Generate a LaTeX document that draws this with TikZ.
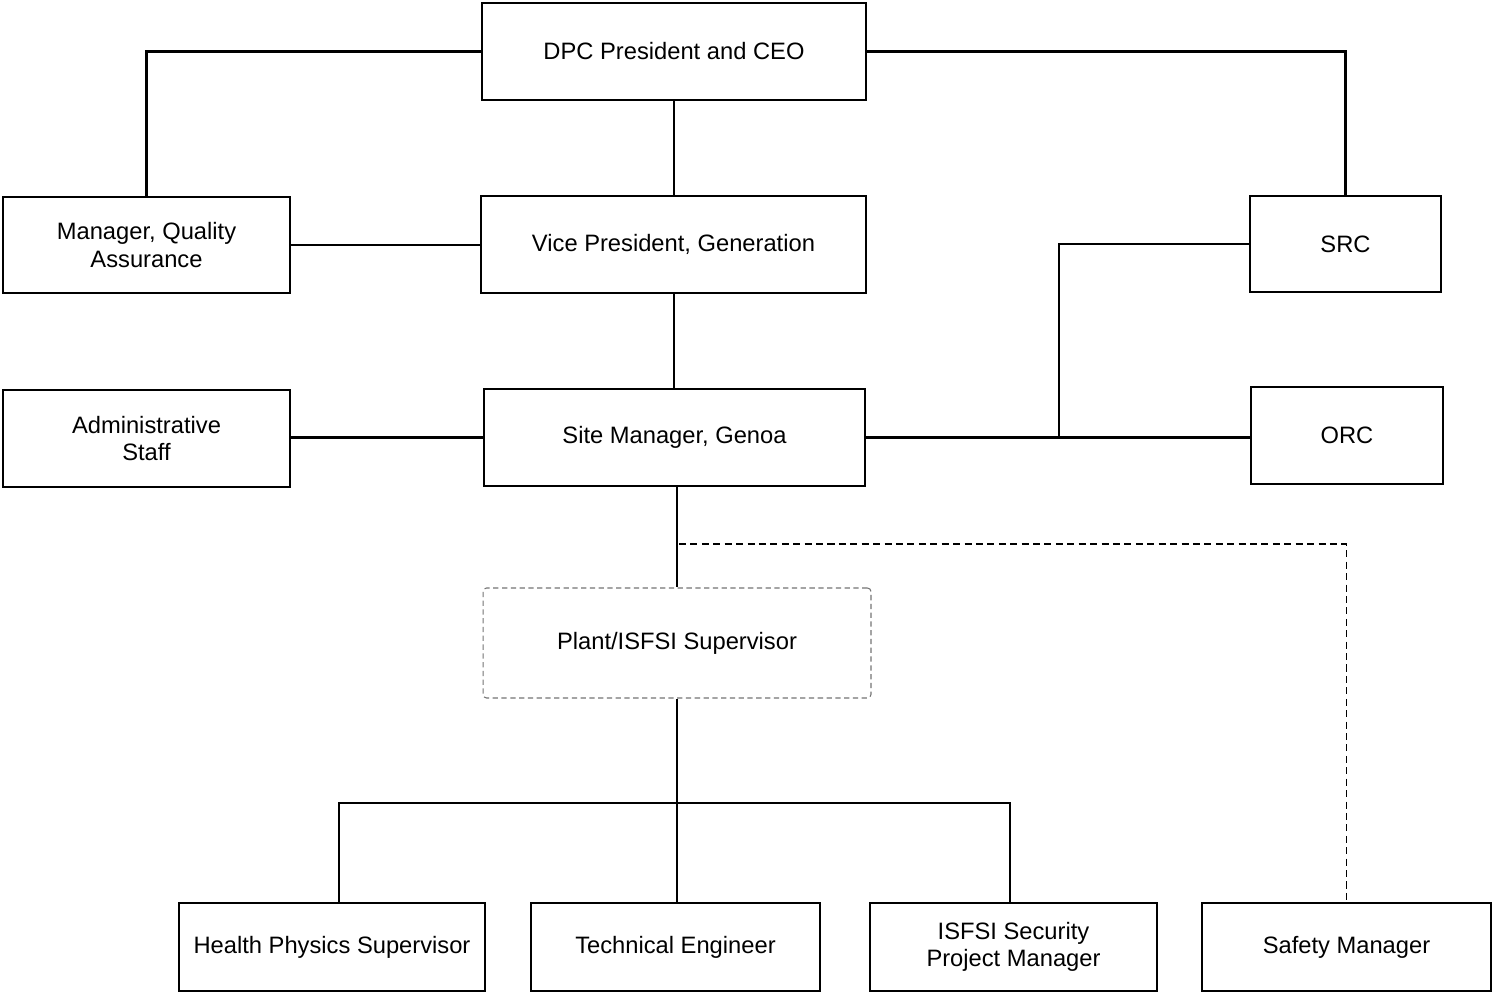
\documentclass[tikz,border=0pt]{standalone}
\usepackage{fontspec}
\setmainfont{Liberation Sans}
\usepackage{tikz}

\begin{document}
\begin{tikzpicture}[x = .02cm, y = -.02cm, line width = 1.3pt,
        box/.style = {draw, inner sep = 0pt, align = center, font = \fontsize{13.5}{15.5}\selectfont}]
        \useasboundingbox (0,0) rectangle (1493,993);

        \node[box, minimum width = 7.68cm, minimum height = 1.94cm] (ceo) at (674,51.5) {DPC President and CEO};
        \node[box, minimum width = 5.74cm, minimum height = 1.92cm] (qa) at (146.5,245) {Manager, Quality\\Assurance};
        \node[box, minimum width = 7.70cm, minimum height = 1.94cm] (vp) at (673.5,244.5) {Vice President, Generation};
        \node[box, minimum width = 3.82cm, minimum height = 1.92cm] (src) at (1345.5,244) {SRC};
        \node[box, minimum width = 5.74cm, minimum height = 1.94cm] (admin) at (146.5,438.5) {Administrative\\Staff};
        \node[box, minimum width = 7.62cm, minimum height = 1.94cm] (site) at (674.5,437.5) {Site Manager, Genoa};
        \node[box, minimum width = 3.84cm, minimum height = 1.94cm] (orc) at (1347,435.5) {ORC};
        \node[box, draw = black!55, densely dashed, rounded corners = 2pt, line width = .6pt,
              minimum width = 7.76cm, minimum height = 2.2cm] (plant) at (677,643) {Plant/ISFSI Supervisor};
        \node[box, minimum width = 6.12cm, minimum height = 1.76cm] (hp) at (332,947) {Health Physics Supervisor};
        \node[box, minimum width = 5.78cm, minimum height = 1.76cm] (tech) at (675.5,947) {Technical Engineer};
        \node[box, minimum width = 5.74cm, minimum height = 1.76cm] (sec) at (1013.5,947) {ISFSI Security\\Project Manager};
        \node[box, minimum width = 5.78cm, minimum height = 1.76cm] (safety) at (1346.5,947) {Safety Manager};

        \draw (ceo.west) -| (qa.north);
        \draw (ceo.east) -| (src.north);
        \draw (ceo.south) -- (ceo.south |- vp.north);
        \draw (qa.east) -- (qa.east -| vp.west);
        \draw (ceo.south |- vp.south) -- (ceo.south |- site.north);
        \draw (site.west -| admin.east) -- (site.west);

        \coordinate (split) at (1059,437.5);
        \draw (site.east) -- (site.east -| orc.west);
        \draw (split) |- (src.west);

        \draw (plant.north |- site.south) -- (plant.north);
        \coordinate (dsplit) at (679,544);
        \draw[dash pattern = on 4pt off 2.5pt, line width = .7pt] (dsplit) -| (safety.north);

        \coordinate (bus) at (677,803);
        \draw (plant.south) -- (bus);
        \draw ([xshift = .14cm]hp.north) |- ([xshift = -.07cm]sec.north |- bus) -- ([xshift = -.07cm]sec.north);
        \draw (bus) -- (bus |- tech.north);
    \end{tikzpicture}
\end{document}
